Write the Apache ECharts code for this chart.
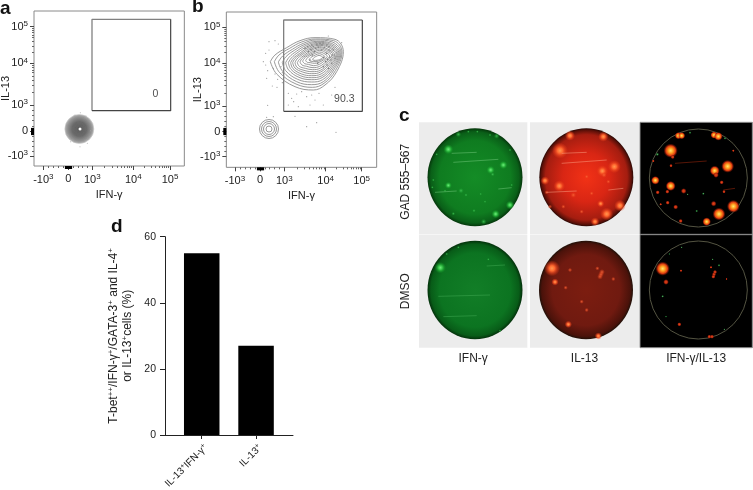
<!DOCTYPE html>
<html>
<head>
<meta charset="utf-8">
<style>html,body{margin:0;padding:0;background:#fff}#chart{width:753px;height:490px}</style>
<script src="https://cdn.jsdelivr.net/npm/echarts@6/dist/echarts.min.js"></script>
</head>
<body>
<div id="chart"></div>
<script>
// flow panels: axis units are display channels (3 per screen px)
var tickLabels = ['-10{s|3}', '0', '10{s|3}', '10{s|4}', '10{s|5}'];
var aXTicks = [130, 205, 277, 400, 510];
var aYTicks = [468, 393, 315, 190, 80];
var bXTicks = [120, 195, 268, 392, 500];
var bYTicks = [470, 395, 318, 190, 82];

var aGate = [[276, 332], [276, 58], [512, 58]];
var aGateDark = [[512, 58], [512, 332], [276, 332]];
var bGate = [[266, 334], [266, 60], [502, 60]];
var bGateDark = [[502, 60], [502, 334], [266, 334]];
var aGateValue = [[466, 283, '0']];
var bGateValue = [[448, 298, '90.3']];

var aRings = [[238, 387, 29], [238, 387, 27], [238, 387, 25], [238, 387, 23], [238, 387, 21], [238, 387, 19], [238, 387, 17], [238, 387, 15], [238, 387, 13], [238, 387, 11], [238, 387, 9], [238, 387, 7], [238, 387, 5]];
var aDots = [[241, 338], [240, 440], [212, 425], [262, 430], [225, 345], [258, 348], [205, 408], [272, 392]];
var bSmallRings = [[222, 387, 19], [222, 387, 15], [222, 387, 11], [222, 387, 6]];

var bContours = [
  [[226,185],[240,165],[275,143],[315,122],[360,113],[420,118],[445,155],[425,215],[390,255],[355,270],[300,260],[245,222]],
  [[238,185],[252,165],[284,145],[320,126],[362,117],[416,122],[441,156],[421,212],[387,250],[352,262],[303,252],[254,218]],
  [[250,186],[263,168],[292,148],[325,130],[364,120],[412,126],[438,158],[417,209],[385,245],[350,254],[305,245],[263,214]],
  [[262,187],[273,170],[298,151],[330,133],[366,124],[409,130],[435,160],[414,206],[383,239],[350,246],[308,238],[272,212]],
  [[272,188],[282,172],[304,154],[334,136],[368,127],[406,133],[432,161],[411,203],[381,233],[349,239],[312,232],[281,210]],
  [[280,188],[289,174],[309,157],[338,139],[370,130],[404,136],[429,162],[408,200],[379,228],[349,233],[316,227],[288,208]],
  [[287,188],[295,175],[314,160],[341,142],[371,133],[401,139],[426,163],[405,197],[378,222],[349,227],[320,222],[294,206]],
  [[293,188],[300,176],[318,162],[344,145],[372,136],[399,142],[423,164],[402,194],[377,216],[350,221],[323,216],[300,204]],
  [[300,188],[306,177],[322,164],[347,148],[373,140],[396,146],[419,165],[399,191],[376,211],[351,215],[327,211],[306,202]],
  [[307,188],[313,178],[327,166],[350,151],[373,143],[394,149],[415,166],[396,188],[375,205],[352,209],[331,205],[313,199]],
  [[315,186],[320,177],[332,167],[352,155],[374,147],[391,152],[410,167],[393,185],[374,199],[354,203],[335,199],[321,195]],
  [[323,184],[327,176],[337,168],[355,158],[374,151],[389,156],[404,168],[389,182],[373,193],[356,197],[340,193],[329,191]],
  [[332,182],[336,175],[344,168],[358,161],[374,156],[386,160],[397,169],[385,180],[372,187],[358,190],[346,188],[337,187]],
  [[342,180],[345,175],[351,170],[361,165],[373,161],[382,164],[390,171],[382,178],[371,183],[360,185],[351,184],[345,183]],
  [[353,178],[355,175],[358,172],[364,169],[372,166],[378,168],[383,172],[378,177],[370,180],[362,181],[357,181],[354,180]]
];
var bDots = [
  [222,125],[240,122],[250,132],[212,160],[222,150],[205,185],[212,195],[218,212],[235,205],[240,222],[215,235],[232,258],[246,262],[262,248],
  [258,200],[248,238],[262,218],[218,316],[300,349],[365,368],[335,380],[423,397],[235,350],[215,352],[280,280],[290,295],[305,282],[320,275],[335,290],
  [350,285],[372,280],[385,315],[345,315],[310,320],[280,315],[296,305],[360,300],[410,285],[420,262],[440,128],[400,108]
];
var bDenseDots = [
  [350,150],[362,145],[380,150],[395,160],[405,172],[392,185],[410,190],[352,165],[340,155],[368,190],[385,200],[400,205],[345,180],[330,145],[415,150],[420,175],[375,130],[395,135],
  [355,140],[370,142],[388,142],[402,150],[412,165],[398,178],[408,180],[358,155],[346,148],[385,172],[396,195],[350,135],[365,135],[380,135],[338,140],[402,140]
];

// wells, drawn in image units (3 per screen px)
var greenTopSpots = [[175,133,7],[340,180,6],[302,195,6],[308,208,3],[175,241,5],[213,257,4],[317,327,6],[281,350,4],[228,270,2.5],[272,267,2],[360,300,6],[252,317,2.5],[190,326,2.5],[130,225,2],[127,247,2],[165,257,2],[205,88,4],[320,93,4],[235,80,2],[262,80,2],[300,90,2],[360,135,2],[140,148,2],[365,240,2],[285,290,2]];
var greenTopStreaks = [[[190,172],[325,163]], [[185,145],[260,142]], [[325,252],[365,248]], [[135,262],[200,258]]];
var redTopSpots = [[510,137,11],[673,185,9],[637,198,8],[642,210,4],[508,243,8],[465,227,6],[650,327,9],[690,302,8],[615,350,6],[632,296,5],[550,270,4],[590,215,3],[605,265,3],[520,305,3],[575,320,3],[480,305,3],[540,92,7],[640,95,7],[655,230,3],[470,262,3]];
var redTopStreaks = [[[515,175],[650,165]], [[515,145],[590,142]], [[655,255],[700,250]], [[470,262],[560,258]]];
var mergeTopSpots = [[842,137,10],[1013,184,9],[974,197,7],[978,210,4],[842,243,7],[796,226,6],[987,327,9],[1030,304,9],[950,350,6],[971,296,4],[881,258,4],[857,306,3.5],[832,260,3],[803,262,3],[833,293,3],[812,298,2],[865,92,5],[875,92,5],[972,90,5],[985,94,6],[848,156,3],[843,182,2.5],[1030,137,2],[995,232,3],[1002,260,2.5],[790,168,2],[872,348,3]];
var mergeTopGreen = [[802,148,2.5],[920,318,2],[940,266,2],[893,268,1.5],[900,83,2],[1005,100,2]];
var mergeTopStreaks = [[[855,175],[950,168]], [[1000,255],[1035,250]]];

var greenBottomSpots = [[151,113,8],[295,88,2],[170,72,2],[205,52,2],[330,302,2]];
var greenBottomStreaks = [[[290,108],[345,105]], [[145,199],[300,195]], [[160,260],[260,257]]];
var redBottomSpots = [[486,115,11],[495,156,5],[540,120,3],[622,115,3],[670,147,3],[527,173,3],[575,215,3],[535,283,5],[590,240,3],[625,318,5],[630,140,4],[633,133,4],[636,126,4]];
var redBottomStreaks = [];
var mergeBottomSpots = [[818,116,10],[828,156,4],[868,283,3],[873,122,2],[1010,147,1.5],[963,112,2],[958,320,3],[966,320,3],[970,140,3],[972,133,3],[975,126,3]];
var mergeBottomGreen = [[968,88,1.5],[987,106,2],[818,199,2],[828,260,1.5],[1003,298,1.5],[838,72,1.5],[875,52,1.5]];

// bar panel
var barCategories = ['IL-13{s|+}IFN-γ{s|+}', 'IL-13{s|+}'];
var barValues = [55, 27];

var FONT = '"Liberation Sans", Arial, sans-serif';
var TXT = '#222';
var sup = {fontSize: 8, verticalAlign: 'top', lineHeight: 14, fontFamily: FONT, color: TXT};

var minorFrac = [0.301, 0.477, 0.602, 0.699, 0.778, 0.845, 0.903, 0.954];
function minorTicks(t) {
  // minor ticks between the printed decades
  var out = [];
  var i, k;
  for (k = 1; k < 5; k++) out.push(t[0] + (t[1] - t[0]) * k / 5);
  for (k = 1; k < 5; k++) out.push(t[1] + (t[2] - t[1]) * k / 5);
  for (i = 2; i < 4; i++) {
    minorFrac.forEach(function (f) { out.push(t[i] + (t[i + 1] - t[i]) * f); });
  }
  return out;
}

var grid = [], xAxis = [], yAxis = [], series = [];

function addGrid(ox, oy, x0, x1, y0, y1, extra) {
  var g = {left: ox + x0 / 3, top: oy + y0 / 3, width: (x1 - x0) / 3, height: (y1 - y0) / 3, containLabel: false, outerBoundsMode: 'none'};
  for (var k in extra) g[k] = extra[k];
  grid.push(g);
  return grid.length - 1;
}

function flowPanel(ox, g, xt, yt, gate, gateDark, gateValue) {
  var idx = addGrid(ox, 0, g[0], g[1], g[2], g[3], {show: true, borderColor: '#8a8a8a', borderWidth: 1, backgroundColor: '#fff'});
  var baseX = {gridIndex: idx, type: 'value', min: g[0], max: g[1], position: 'bottom', splitLine: {show: false}, axisLine: {show: false, onZero: false}};
  var baseY = {gridIndex: idx, type: 'value', min: g[2], max: g[3], inverse: true, position: 'left', splitLine: {show: false}, axisLine: {show: false, onZero: false}};
  var labelStyle = {fontSize: 11, color: TXT, fontFamily: FONT, rich: {s: {fontSize: 8, verticalAlign: 'top', lineHeight: 14, fontFamily: FONT, color: TXT}}};
  xAxis.push(Object.assign({}, baseX, {
    name: 'IFN-γ', nameLocation: 'middle', nameGap: 23, nameMoveOverlap: false,
    nameTextStyle: {fontSize: 11, color: TXT, fontFamily: FONT},
    axisTick: {show: true, length: 4, customValues: xt, lineStyle: {color: '#444'}},
    axisLabel: Object.assign({show: true, margin: 7, customValues: xt, formatter: function (v, i) { return tickLabels[xt.indexOf(v)]; }}, labelStyle)
  }));
  var xMain = xAxis.length - 1;
  yAxis.push(Object.assign({}, baseY, {
    name: 'IL-13', nameLocation: 'middle', nameGap: 23, nameMoveOverlap: false,
    nameTextStyle: {fontSize: 11, color: TXT, fontFamily: FONT},
    axisTick: {show: true, length: 4, customValues: yt, lineStyle: {color: '#444'}},
    axisLabel: Object.assign({show: true, margin: 6, customValues: yt, formatter: function (v, i) { return tickLabels[yt.indexOf(v)]; }}, labelStyle)
  }));
  var yMain = yAxis.length - 1;
  // minor ticks and the dark pile up near zero
  xAxis.push(Object.assign({}, baseX, {axisLabel: {show: false}, axisTick: {show: true, length: 2, customValues: minorTicks(xt), lineStyle: {color: '#666'}}}));
  yAxis.push(Object.assign({}, baseY, {axisLabel: {show: false}, axisTick: {show: true, length: 2, customValues: minorTicks(yt), lineStyle: {color: '#666'}}}));
  xAxis.push(Object.assign({}, baseX, {axisLabel: {show: false}, axisTick: {show: true, length: 3, customValues: [xt[1] - 9, xt[1] - 6, xt[1] - 3, xt[1], xt[1] + 3, xt[1] + 6, xt[1] + 9], lineStyle: {color: '#000', width: 1.2}}}));
  yAxis.push(Object.assign({}, baseY, {axisLabel: {show: false}, axisTick: {show: true, length: 3, customValues: [yt[1] - 9, yt[1] - 6, yt[1] - 3, yt[1], yt[1] + 3, yt[1] + 6, yt[1] + 9], lineStyle: {color: '#000', width: 1.2}}}));
  series.push({type: 'line', xAxisIndex: xMain, yAxisIndex: yMain, data: gate, symbol: 'none', silent: true, lineStyle: {color: '#808080', width: 1.3}});
  series.push({type: 'line', xAxisIndex: xMain, yAxisIndex: yMain, data: gateDark, symbol: 'none', silent: true, lineStyle: {color: '#444', width: 1.2}});
  series.push({
    type: 'scatter', xAxisIndex: xMain, yAxisIndex: yMain, data: gateValue, symbolSize: 0,
    label: {show: true, position: 'inside', formatter: function (p) { return p.data[2]; }, fontSize: 10.5, color: TXT, fontFamily: FONT}
  });
  return [xMain, yMain];
}

function ringSeries(ax, data, color, width, fill) {
  series.push({
    type: 'scatter', xAxisIndex: ax[0], yAxisIndex: ax[1], data: data,
    symbolSize: function (d) { return d[2]; }, silent: true,
    itemStyle: {color: fill || 'transparent', borderColor: color, borderWidth: width, opacity: 1}
  });
}
function dotSeries(ax, data, size, color) {
  series.push({type: 'scatter', xAxisIndex: ax[0], yAxisIndex: ax[1], data: data, symbolSize: size, silent: true, itemStyle: {color: color, opacity: 1}});
}

// panel a
var axA = flowPanel(0, [102, 553, 33, 498], aXTicks, aYTicks, aGate, aGateDark, aGateValue);
var aFill = {type: 'radial', x: 0.5, y: 0.5, r: 0.5, colorStops: [{offset: 0, color: '#555'}, {offset: 0.5, color: '#666'}, {offset: 0.8, color: '#999'}, {offset: 1, color: '#ccc'}]};
ringSeries(axA, [aRings[0]], '#bbb', 0.5, aFill);
ringSeries(axA, aRings.slice(1), 'rgba(120,120,120,0.6)', 0.5);
dotSeries(axA, aDots, 1, '#aaa');
dotSeries(axA, [[240, 387]], 3, '#fff');

// panel b
var axB = flowPanel(195, [94, 545, 36, 502], bXTicks, bYTicks, bGate, bGateDark, bGateValue);
dotSeries(axB, bDots, 1.2, '#999');
bContours.forEach(function (c) {
  series.push({
    type: 'line', xAxisIndex: axB[0], yAxisIndex: axB[1], data: c.concat([c[0]]), smooth: 0.4, symbol: 'none', silent: true,
    lineStyle: {color: '#8c8c8c', width: 0.9}
  });
});
dotSeries(axB, bDenseDots, 1.6, '#777');
dotSeries(axB, [[372, 175]], 5, '#fff');
ringSeries(axB, bSmallRings, '#8c8c8c', 0.9);

// panel c
var greenTop = {type: 'radial', x: 0.5, y: 0.5, r: 0.5, colorStops: [{offset: 0, color: '#148c26'}, {offset: 0.75, color: '#0f7c20'}, {offset: 0.93, color: '#0a5f18'}, {offset: 1, color: '#05360b'}]};
var greenBottom = {type: 'radial', x: 0.5, y: 0.5, r: 0.5, colorStops: [{offset: 0, color: '#127e27'}, {offset: 0.75, color: '#0c7421'}, {offset: 0.93, color: '#085c18'}, {offset: 1, color: '#04300b'}]};
var redTop = {type: 'radial', x: 0.5, y: 0.5, r: 0.5, colorStops: [{offset: 0, color: '#f23216'}, {offset: 0.5, color: '#d92614'}, {offset: 0.87, color: '#a41d10'}, {offset: 0.96, color: '#5c1008'}, {offset: 1, color: '#2a0804'}]};
var redBottom = {type: 'radial', x: 0.5, y: 0.5, r: 0.5, colorStops: [{offset: 0, color: '#7c1d10'}, {offset: 0.72, color: '#701a10'}, {offset: 0.94, color: '#4a120a'}, {offset: 1, color: '#201008'}]};
function spotFill(stops) {
  return {type: 'radial', x: 0.5, y: 0.5, r: 0.5, colorStops: stops.map(function (c, i) { return {offset: i / (stops.length - 1), color: c}; })};
}
var fillGreen = spotFill(['#6fea7c', '#3bc84c', 'rgba(30,170,50,0.55)', 'rgba(20,140,40,0)']);
var fillGreenSmall = spotFill(['rgba(70,200,90,0.85)', 'rgba(40,170,60,0.5)', 'rgba(20,140,40,0)']);
var fillPaleRed = spotFill(['#ff9850', '#ff6a30', 'rgba(240,70,30,0.55)', 'rgba(230,60,20,0)']);
var fillPaleRedSmall = spotFill(['rgba(255,110,60,0.8)', 'rgba(240,80,40,0.45)', 'rgba(230,60,20,0)']);
var fillMerge = spotFill(['#ffe870', '#ffa020', '#e03c10', 'rgba(120,10,0,0)']);
var fillMergeSmall = spotFill(['#e84a18', '#b82a10', 'rgba(110,15,0,0)']);
var fillMergeGreen = spotFill(['#70c878', 'rgba(40,140,60,0.6)', 'rgba(20,120,40,0)']);

function spotItems(spots, big, small) {
  return spots.map(function (d) { return {value: d, itemStyle: {color: d[2] <= 4 ? small : big, opacity: 1}}; });
}

function wellPanel(b, bg, opt) {
  var idx = addGrid(390, b[4], b[0], b[1], b[2], b[3], {show: true, backgroundColor: bg, borderWidth: opt.border ? 1 : 0, borderColor: '#8a8a8a'});
  var xa = {gridIndex: idx, type: 'value', min: b[0], max: b[1], splitLine: {show: false}, axisLine: {show: false, onZero: false}, axisTick: {show: false}, axisLabel: {show: false}, nameMoveOverlap: false};
  var ya = {gridIndex: idx, type: 'value', min: b[2], max: b[3], inverse: true, splitLine: {show: false}, axisLine: {show: false, onZero: false}, axisTick: {show: false}, axisLabel: {show: false}, nameMoveOverlap: false};
  if (opt.xName) {
    xa.name = opt.xName; xa.nameLocation = 'middle'; xa.nameGap = 11;
    xa.nameTextStyle = {fontSize: 12, color: TXT, fontFamily: FONT, verticalAlign: 'middle'};
  }
  if (opt.yName) {
    ya.name = opt.yName; ya.nameLocation = 'middle'; ya.nameGap = 7;
    ya.nameTextStyle = {fontSize: 12, color: TXT, fontFamily: FONT, padding: opt.yNamePad || 0};
  }
  xAxis.push(xa); yAxis.push(ya);
  var ax = [xAxis.length - 1, yAxis.length - 1];
  if (opt.disk) {
    series.push({type: 'scatter', xAxisIndex: ax[0], yAxisIndex: ax[1], data: [opt.disk], silent: true, symbolSize: function (d) { return [d[2], d[3]]; }, itemStyle: {color: opt.fill, opacity: 1}});
  }
  if (opt.ring) {
    ringSeries(ax, [opt.ring], '#5c5c48', 0.9);
  }
  (opt.streaks || []).forEach(function (s) {
    series.push({type: 'line', xAxisIndex: ax[0], yAxisIndex: ax[1], data: s, symbol: 'none', silent: true, lineStyle: {color: opt.streakColor, width: 0.9, opacity: 0.5}});
  });
  series.push({type: 'scatter', xAxisIndex: ax[0], yAxisIndex: ax[1], data: spotItems(opt.spots, opt.spotFill, opt.spotFillSmall), silent: true, symbolSize: function (d) { return d[2] * 1.45; }});
  if (opt.spots2) {
    series.push({type: 'scatter', xAxisIndex: ax[0], yAxisIndex: ax[1], data: opt.spots2, silent: true, symbolSize: function (d) { return d[2] * 1.45; }, itemStyle: {color: fillMergeGreen, opacity: 1}});
  }
}

wellPanel([87, 412, 52, 388, 105], '#ececec', {disk: [255, 217, 95, 98], fill: greenTop, spots: greenTopSpots, spotFill: fillGreen, spotFillSmall: fillGreenSmall, streaks: greenTopStreaks, streakColor: '#7fd088', yName: 'GAD 555–567', yNamePad: [0, 7, 0, 0]});
wellPanel([420, 747, 52, 388, 105], '#ececec', {disk: [589, 217, 94, 98], fill: redTop, spots: redTopSpots, spotFill: fillPaleRed, spotFillSmall: fillPaleRedSmall, streaks: redTopStreaks, streakColor: '#ffb090'});
wellPanel([750, 1087, 52, 388, 105], '#000', {border: true, ring: [925, 219, 98], spots: mergeTopSpots, spotFill: fillMerge, spotFillSmall: fillMergeSmall, spots2: mergeTopGreen, streaks: mergeTopStreaks, streakColor: '#c03010'});
wellPanel([87, 412, 14, 353, 230], '#ececec', {disk: [255, 180, 95, 98.6], fill: greenBottom, spots: greenBottomSpots, spotFill: fillGreen, spotFillSmall: fillGreenSmall, streaks: greenBottomStreaks, streakColor: '#48b058', xName: 'IFN-γ', yName: 'DMSO'});
wellPanel([420, 747, 14, 353, 230], '#ececec', {disk: [588, 180, 94, 98.6], fill: redBottom, spots: redBottomSpots, spotFill: fillPaleRed, spotFillSmall: fillPaleRedSmall, streaks: redBottomStreaks, streakColor: '#ffb090', xName: 'IL-13'});
wellPanel([750, 1087, 14, 353, 230], '#000', {border: true, ring: [925, 180, 98], spots: mergeBottomSpots, spotFill: fillMerge, spotFillSmall: fillMergeSmall, spots2: mergeBottomGreen, xName: 'IFN-γ/IL-13'});

// panel d
grid.push({left: 165, top: 236.7, width: 128, height: 198.3, outerBoundsMode: 'none'});
var dIdx = grid.length - 1;
var barPositions = barCategories.map(function (c, i) { return i + 1; });
xAxis.push({
  gridIndex: dIdx, type: 'value', min: 0.324, max: 2.68, position: 'bottom', splitLine: {show: false},
  axisLine: {show: true, onZero: false, lineStyle: {color: '#222', width: 1}},
  axisTick: {show: true, length: 4, customValues: barPositions, lineStyle: {color: '#222'}},
  axisLabel: {
    show: true, customValues: barPositions, rotate: 45, margin: 7, fontSize: 10, color: TXT, fontFamily: FONT, align: 'right', verticalAlign: 'top',
    formatter: function (v) { return barCategories[v - 1]; },
    rich: {s: {fontSize: 7, verticalAlign: 'top', lineHeight: 12, fontFamily: FONT, color: TXT}}
  }
});
yAxis.push({
  gridIndex: dIdx, type: 'value', min: 0, max: 60, interval: 20, splitLine: {show: false},
  axisLine: {show: true, onZero: false, lineStyle: {color: '#222', width: 1}},
  axisTick: {show: true, length: 5, lineStyle: {color: '#222'}},
  axisLabel: {fontSize: 10.5, margin: 9, color: TXT, fontFamily: FONT},
  name: 'T-bet{s|++}/IFN-γ{s|+}/GATA-3{s|+} and IL-4{s|+}\nor IL-13{s|+}cells (%)',
  nameLocation: 'middle', nameGap: 30, nameMoveOverlap: false,
  nameTextStyle: {fontSize: 12, lineHeight: 14, color: TXT, fontFamily: FONT, rich: {s: sup}}
});
series.push({
  type: 'bar', xAxisIndex: xAxis.length - 1, yAxisIndex: yAxis.length - 1, barWidth: 35.5,
  data: barValues.map(function (v, i) { return [barPositions[i], v]; }),
  itemStyle: {color: '#000'}, silent: true
});

function letter(t, x, y) {
  return {type: 'text', left: x, top: y, style: {text: t, fontSize: 19, fontWeight: 'bold', fill: '#111', fontFamily: FONT}};
}

var myChart = echarts.init(document.getElementById('chart'));
myChart.setOption({
  animation: false,
  backgroundColor: '#fff',
  grid: grid,
  xAxis: xAxis,
  yAxis: yAxis,
  series: series,
  graphic: [letter('a', 0, -1), letter('b', 192, -3), letter('c', 399, 106), letter('d', 111, 217)]
});
</script>
</body>
</html>
